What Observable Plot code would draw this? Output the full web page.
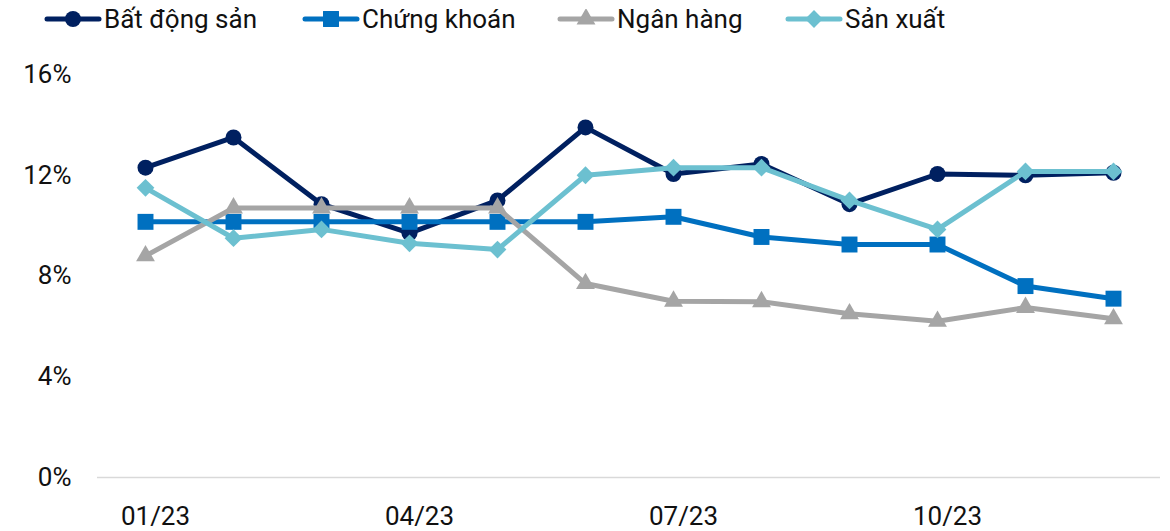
<!DOCTYPE html>
<html>
<head>
<meta charset="utf-8">
<script src="https://cdn.jsdelivr.net/npm/d3@7"></script>
<script src="https://cdn.jsdelivr.net/npm/@observablehq/plot@0.6"></script>
<style>
  html, body { margin: 0; padding: 0; background: #fff; }
  body { width: 1170px; height: 531px; overflow: hidden; font-family: Roboto, "Noto Sans", sans-serif; }
  #legend { height: 40px; position: relative; }
  .item { position: absolute; top: 0; height: 37px; display: flex; align-items: center; font-size: 26px; color: #111; }
  .item svg { margin-right: 2px; }
</style>
</head>
<body>
<div id="legend"></div>
<div id="chart"></div>
<script>
const months = ["01/23","02/23","03/23","04/23","05/23","06/23","07/23","08/23","09/23","10/23","11/23","12/23"];
const tickMonths = ["01/23","04/23","07/23","10/23"];
const yTicks = [0, 4, 8, 12, 16];

const seriesNames = ["Bất động sản", "Chứng khoán", "Ngân hàng", "Sản xuất"];
const batDongSan = [12.3, 13.5, 10.85, 9.7, 11.0, 13.9, 12.05, 12.45, 10.85, 12.05, 12.0, 12.1];
const chungKhoan = [10.15, 10.15, 10.15, 10.15, 10.15, 10.15, 10.35, 9.55, 9.25, 9.25, 7.6, 7.1];
const nganHang = [8.8, 10.7, 10.7, 10.7, 10.7, 7.7, 7.0, 6.98, 6.5, 6.2, 6.75, 6.3];
const sanXuat = [11.5, 9.5, 9.85, 9.3, 9.05, 12.0, 12.3, 12.3, 11.0, 9.85, 12.15, 12.15];

const colors = ["#002060", "#0070C0", "#A5A5A5", "#6CC0D0"];
const symbols = ["circle", "square", "triangle", "diamond2"];
const radii = [8, 9, 7, 8];
const legendLeft = [44, 302, 557, 785];

const seriesValues = [batDongSan, chungKhoan, nganHang, sanXuat];

// legend (HTML)
const legend = document.getElementById("legend");
seriesNames.forEach((name, i) => {
  const item = document.createElement("div");
  item.className = "item";
  item.style.left = legendLeft[i] + "px";
  const sym = d3.symbol(
    {circle: d3.symbolCircle, square: d3.symbolSquare, triangle: d3.symbolTriangle, diamond2: d3.symbolDiamond2}[symbols[i]],
    Math.PI * radii[i] * radii[i]
  )();
  item.innerHTML = `<svg width="58" height="20" viewBox="0 0 58 20">
    <line x1="3" x2="55" y1="10" y2="10" stroke="${colors[i]}" stroke-width="5" stroke-linecap="round"/>
    <path d="${sym}" transform="translate(29,10)" fill="${colors[i]}"/>
  </svg><span>${name}</span>`;
  legend.appendChild(item);
});

const marks = [
  Plot.ruleY([0], {stroke: "#D9D9D9", strokeWidth: 1.5}),
  Plot.axisY({ticks: yTicks, tickSize: 0, tickPadding: 26, tickFormat: d => d + "%", fontSize: 26, fill: "#111", label: null}),
  Plot.axisX({ticks: tickMonths, tickSize: 0, tickPadding: 29, fontSize: 26, fill: "#111", label: null, dx: 10})
];
seriesValues.forEach((vals, i) => {
  const data = months.map((m, j) => ({month: m, value: vals[j], series: seriesNames[i]}));
  marks.push(Plot.line(data, {x: "month", y: "value", stroke: colors[i], strokeWidth: 5, strokeLinejoin: "round", strokeLinecap: "round"}));
  marks.push(Plot.dot(data, {x: "month", y: "value", symbol: () => symbols[i], fill: colors[i], r: radii[i], stroke: "none"}));
});

const plot = Plot.plot({
  width: 1170,
  height: 491,
  marginLeft: 97,
  marginRight: 10,
  marginTop: 34,
  marginBottom: 54,
  style: {fontFamily: "Roboto, sans-serif", fontSize: "26px", color: "#111", background: "#fff"},
  x: {type: "point", domain: months, padding: 0.5},
  y: {domain: [0, 16], range: [437, 34]},
  marks
});
document.getElementById("chart").appendChild(plot);
</script>
</body>
</html>
